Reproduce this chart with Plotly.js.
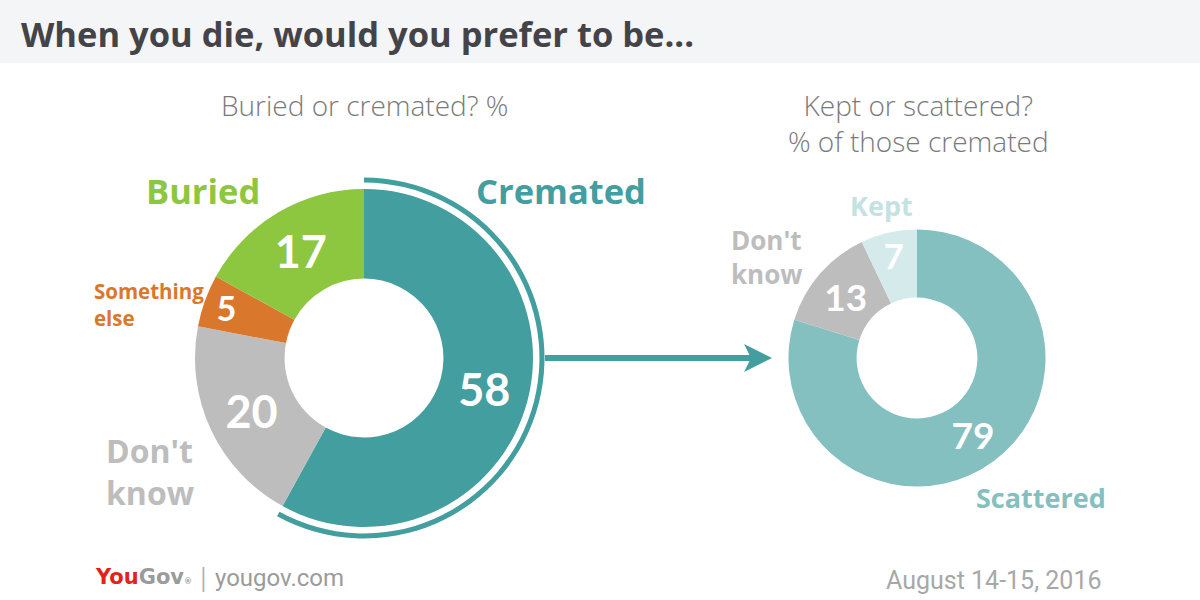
<!DOCTYPE html>
<html>
<head>
<meta charset="utf-8">
<script src="https://cdn.plot.ly/plotly-3.0.1.min.js"></script>
<style>
html,body{margin:0;padding:0;background:#fff;}
#chart{width:1200px;height:600px;}
</style>
</head>
<body>
<div id="chart"></div>
<script>
// ---- data ----
var leftLabels = ['Cremated', "Don't know", 'Something else', 'Buried'];
var leftValues = [58, 20, 5, 17];
var leftColors = ['#439E9F', '#BDBDBD', '#D9782D', '#8DC63F'];

var rightLabels = ['Scattered', "Don't know", 'Kept'];
var rightValues = [79, 13, 7];
var rightColors = ['#84C0C0', '#BDBDBD', '#D4EAEB'];

var titleText = 'When you die, would you prefer to be...';
var leftSubtitle = 'Buried or cremated? %';
var rightSubtitle = 'Kept or scattered?<br>% of those cremated';
var dateText = 'August 14-15, 2016';

// ---- helpers ----
var W = 1200, H = 600;
function px(x){ return x / W; }
function py(y){ return 1 - y / H; }
function dom(cx, cy, r){
  return {x:[px(cx - r), px(cx + r)], y:[py(cy + r), py(cy - r)]};
}
var numFont = {family:'Lato, "Open Sans", sans-serif', weight:'bold', color:'#ffffff'};

var restSum = leftValues.slice(1).reduce(function(a,b){return a+b;},0);

var traces = [
  {
    type:'pie', labels:leftLabels, values:leftValues, sort:false,
    direction:'clockwise', rotation:0, hole:0.47,
    domain:dom(364, 358, 169),
    marker:{colors:leftColors, line:{width:0}},
    textinfo:'value', textposition:'inside', insidetextorientation:'horizontal',
    textfont:Object.assign({size:45}, numFont),
    hoverinfo:'none', showlegend:false
  },
  {
    type:'pie', labels:['arc','rest'], values:[leftValues[0], restSum], sort:false,
    direction:'clockwise', rotation:0, hole:0.972,
    domain:dom(364, 358, 180.5),
    marker:{colors:['#439E9F','rgba(0,0,0,0)'], line:{width:0}},
    textinfo:'none', hoverinfo:'none', showlegend:false
  },
  {
    type:'pie', labels:rightLabels, values:rightValues, sort:false,
    direction:'clockwise', rotation:0, hole:0.47,
    domain:dom(917, 358, 128.5),
    marker:{colors:rightColors, line:{width:0}},
    textinfo:'value', textposition:'inside', insidetextorientation:'horizontal',
    textfont:Object.assign({size:37}, numFont),
    hoverinfo:'none', showlegend:false
  }
];

var boldFam = '"Open Sans", Lato, sans-serif';
function ann(text, x, y, size, color, opts){
  var a = {text:text, x:px(x), y:py(y), xref:'paper', yref:'paper', showarrow:false,
    font:{family:boldFam, size:size, color:color, weight:'bold'}, xanchor:'center', yanchor:'middle'};
  if (opts) Object.keys(opts).forEach(function(k){ a[k] = opts[k]; });
  return a;
}
var lightFont = function(size){ return {family:'"Open Sans", Lato, sans-serif', size:size, color:'#7a7a7a', weight:300}; };

var annotations = [
  ann(titleText, 19, 33, 34.5, '#444448', {xanchor:'left'}),
  ann(leftSubtitle, 365, 105, 28, '#7a7a7a', {font:lightFont(28)}),
  ann(rightSubtitle, 918, 123, 28, '#7a7a7a', {font:lightFont(28)}),
  ann('Cremated', 561, 190, 34.5, '#439E9F'),
  ann('Buried', 203, 190, 34.5, '#8DC63F'),
  ann('Something<br>else', 92, 304, 20.5, '#D9782D', {xanchor:'left', align:'left'}),
  ann("Don't<br>know", 104, 471, 32, '#BDBDBD', {xanchor:'left', align:'left'}),
  ann('Kept', 881, 206, 27, '#C5E2E3'),
  ann("Don't<br>know", 729, 257, 26, '#BDBDBD', {xanchor:'left', align:'left'}),
  ann('Scattered', 1041, 497, 27, '#84C0C0'),
  // footer
  ann('<span style="color:#E2231A">You</span><span style="color:#9b9b9b">Gov</span><span style="font-size:8px;color:#9b9b9b">®</span>', 93, 577, 21, '#E2231A',
      {xanchor:'left', font:{family:'"DejaVu Sans", "Open Sans", sans-serif', size:21, color:'#E2231A', weight:'bold'}}),
  ann('|', 203, 577, 26, '#9b9b9b', {font:{family:'Roboto, sans-serif', size:30, color:'#aaaaaa', weight:300}}),
  ann('yougov.com', 213, 578, 22, '#9b9b9b',
      {xanchor:'left', font:{family:'"Liberation Sans Narrow", Roboto, sans-serif', size:24, color:'#9b9b9b', weight:'normal'}}),
  ann(dateText, 1104, 580, 24, '#a8a8a8',
      {xanchor:'right', font:{family:'"Liberation Sans Narrow", Roboto, sans-serif', size:25, color:'#a8a8a8', weight:'normal'}})
];

// arrow (connector between the two donuts)
var arrowPath = 'M ' + px(772) + ' ' + py(358) +
  ' L ' + px(744) + ' ' + py(344) +
  ' L ' + px(751) + ' ' + py(358) +
  ' L ' + px(744) + ' ' + py(372) + ' Z';

var layout = {
  width:W, height:H, margin:{l:0, r:0, t:0, b:0},
  paper_bgcolor:'#ffffff', plot_bgcolor:'#ffffff',
  showlegend:false,
  shapes:[
    {type:'rect', xref:'paper', yref:'paper', x0:0, x1:1, y0:py(63), y1:1,
     fillcolor:'#F4F5F7', line:{width:0}, layer:'below'},
    {type:'line', xref:'paper', yref:'paper', x0:px(545), x1:px(755), y0:py(358), y1:py(358),
     line:{color:'#439E9F', width:6}},
    {type:'path', xref:'paper', yref:'paper', path:arrowPath,
     fillcolor:'#439E9F', line:{width:0}}
  ],
  annotations:annotations
};

Plotly.newPlot('chart', traces, layout, {displayModeBar:false, staticPlot:true});
</script>
</body>
</html>
